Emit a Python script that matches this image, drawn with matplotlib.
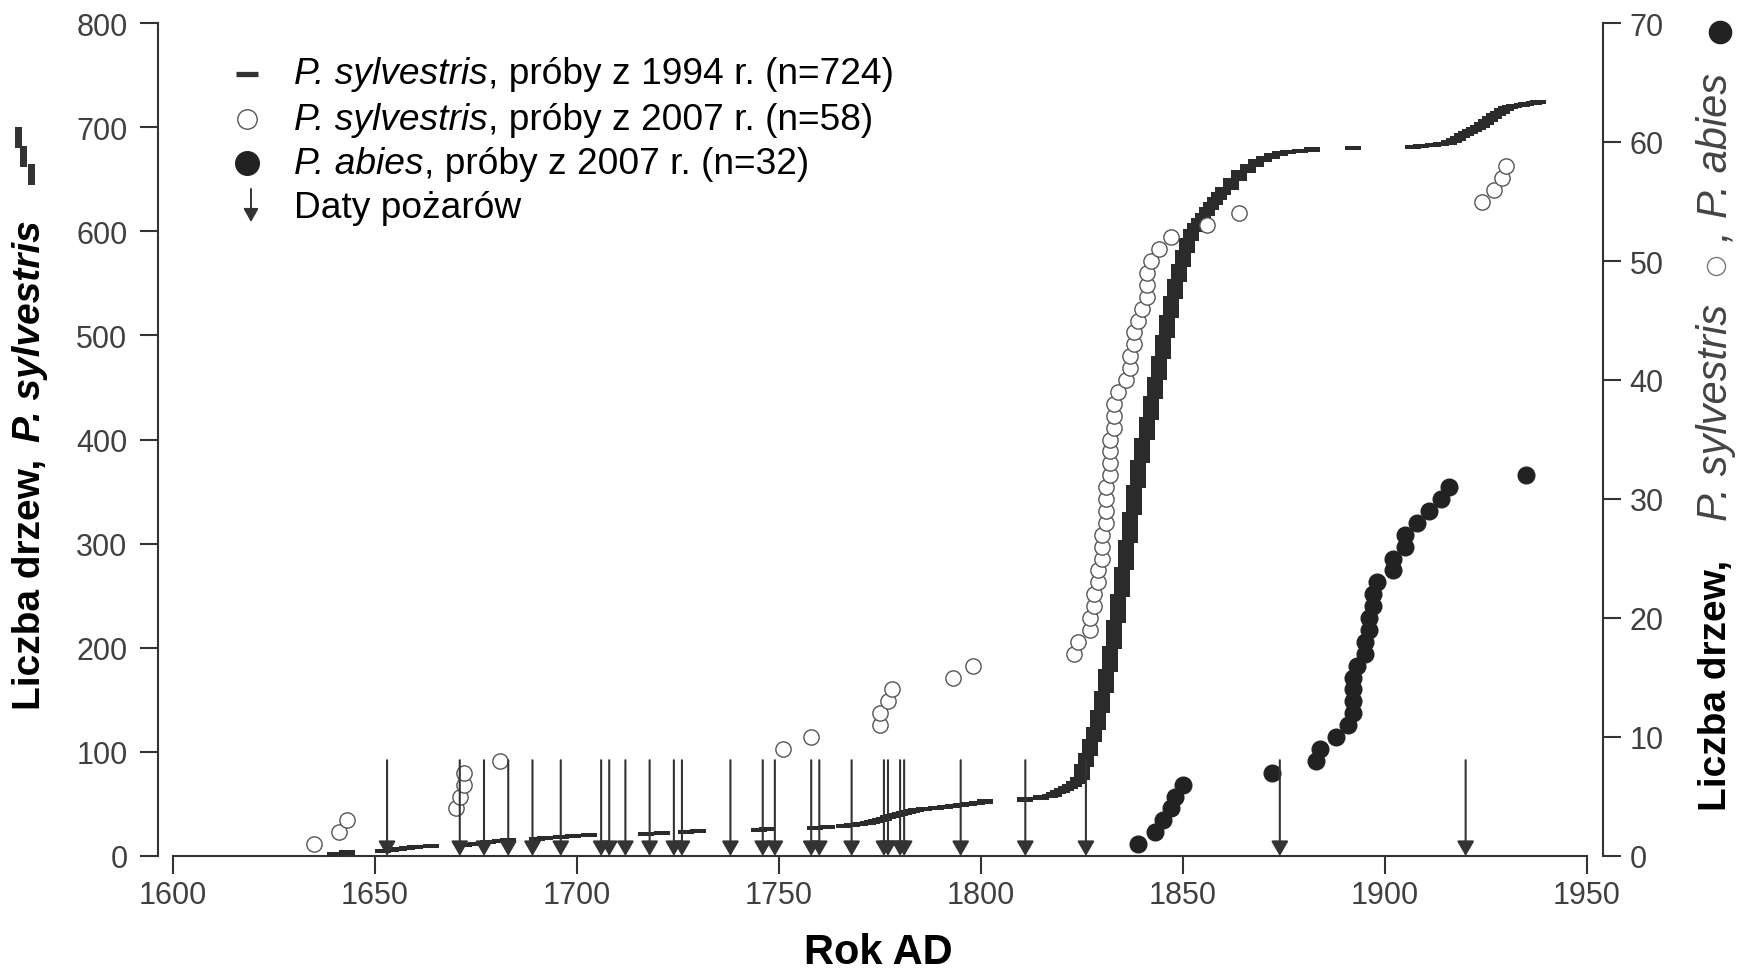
import numpy as np
import matplotlib
matplotlib.use("Agg")
import matplotlib.pyplot as plt
from matplotlib.lines import Line2D
from matplotlib.patches import Rectangle, FancyArrowPatch

plt.rcParams["font.family"] = ["Liberation Sans", "DejaVu Sans"]

# P. sylvestris, próby z 1994 r. - rok i skumulowana liczba drzew (n=724)
sylv94_years = [1640, 1643, 1652, 1654, 1656, 1658, 1660, 1664, 1672, 1675,
                1678, 1681, 1683, 1690, 1692, 1696, 1699, 1703, 1717, 1721,
                1727, 1730, 1745, 1747, 1759, 1762, 1766, 1768, 1770, 1772,
                1773, 1774, 1775, 1776, 1777, 1778, 1779, 1780, 1781, 1782,
                1783, 1784, 1786, 1789, 1791, 1793, 1795, 1797, 1799, 1801,
                1811, 1815, 1817, 1818, 1819, 1820, 1821, 1822, 1823, 1824,
                1825, 1826, 1827, 1828, 1829, 1830, 1831, 1832, 1833, 1834,
                1835, 1836, 1837, 1838, 1839, 1840, 1841, 1842, 1843, 1844,
                1845, 1846, 1847, 1848, 1849, 1850, 1851, 1852, 1853, 1854,
                1855, 1856, 1857, 1858, 1859, 1860, 1862, 1864, 1866, 1868,
                1870, 1872, 1874, 1876, 1879, 1882, 1892, 1907, 1909, 1912,
                1914, 1916, 1917, 1918, 1919, 1920, 1921, 1922, 1923, 1924,
                1925, 1926, 1927, 1928, 1929, 1930, 1931, 1932, 1934, 1935,
                1937, 1938]
sylv94_cum = [2, 4, 5, 6, 7, 8, 9, 10, 11, 12,
              13, 14, 15, 16, 17, 18, 19, 20, 21, 22,
              23, 24, 25, 26, 27, 28, 29, 30, 31, 32,
              33, 34, 35, 36, 37, 38, 39, 40, 41, 42,
              43, 44, 45, 46, 47, 48, 49, 50, 51, 53,
              55, 57, 58, 60, 61, 63, 65, 67, 70, 74,
              86, 97, 110, 122, 138, 157, 178, 200, 225, 250,
              276, 302, 328, 354, 378, 400, 420, 440, 458, 478,
              498, 518, 536, 552, 567, 580, 592, 600, 606, 611,
              616, 621, 626, 631, 636, 641, 649, 657, 663, 667,
              670, 673, 675, 676, 677, 679, 680, 681, 682, 683,
              684, 686, 688, 690, 692, 694, 696, 698, 700, 703,
              706, 709, 712, 714, 716, 718, 719, 720, 721, 722,
              723, 724]

# P. sylvestris, próby z 2007 r. - lata kolejnych drzew (n=58)
sylv07_years = [1635, 1641, 1643, 1670, 1671, 1672, 1672, 1681, 1751, 1758,
                1775, 1775, 1777, 1778, 1793, 1798, 1823, 1824, 1827, 1827,
                1828, 1828, 1829, 1829, 1830, 1830, 1830, 1831, 1831, 1831,
                1831, 1832, 1832, 1832, 1832, 1833, 1833, 1833, 1834, 1836,
                1837, 1837, 1838, 1838, 1839, 1840, 1841, 1841, 1841, 1842,
                1844, 1847, 1856, 1864, 1924, 1927, 1929, 1930]

# P. abies, próby z 2007 r. (n=32)
abies07_years = [1839, 1843, 1845, 1847, 1848, 1850, 1872, 1883, 1884, 1888,
                 1891, 1892, 1892, 1892, 1892, 1893, 1895, 1895, 1896, 1896,
                 1897, 1897, 1898, 1902, 1902, 1905, 1905, 1908, 1911, 1914,
                 1916, 1935]

# daty pożarów
fire_years = [1653, 1671, 1677, 1683, 1689, 1696, 1706, 1708, 1712, 1718,
              1724, 1726, 1738, 1746, 1749, 1758, 1760, 1768, 1776, 1777,
              1780, 1781, 1795, 1811, 1826, 1874, 1920]
arrow_top = 92

# legenda: czesc kursywa + reszta
legend_italic = ["P. sylvestris", "P. sylvestris", "P. abies", ""]
legend_rest = [", próby z 1994 r. (n=724)", ", próby z 2007 r. (n=58)",
               ", próby z 2007 r. (n=32)", "Daty pożarów"]

W, H = 1742, 970
DARK = "#333333"


def fpos(px, py):
    # piksele od lewego gornego rogu -> wspolrzedne figury
    return px / W, 1 - py / H


# kazde drzewo to jedna kreska na wysokosci swojego numeru
dash_x, dash_y = [], []
prev = 0
for yr, c in zip(sylv94_years, sylv94_cum):
    for r in range(prev + 1, c + 1):
        dash_x.append(yr)
        dash_y.append(r)
    prev = c

sylv07_rank = np.arange(1, len(sylv07_years) + 1)
abies07_rank = np.arange(1, len(abies07_years) + 1)

fig = plt.figure(figsize=(W / 100, H / 100), dpi=100)
ax = fig.add_axes([158 / W, 1 - 857 / H, (1603 - 158) / W, (857 - 24) / H])
ax2 = ax.twinx()

ax.set_xlim(1596.3, 1954)
ax.set_ylim(0, 800)
ax2.set_ylim(0, 70)

ax.plot(dash_x, dash_y, linestyle="none", marker="_", markersize=11.5,
        markeredgewidth=2.9, color="#2b2b2b", zorder=3)

ax2.plot(sylv07_years, sylv07_rank, linestyle="none", marker="o",
         markersize=11, markerfacecolor="white", markeredgecolor="#555555",
         markeredgewidth=1.0, zorder=4)
ax2.plot(abies07_years, abies07_rank, linestyle="none", marker="o",
         markersize=12, color="#222222", zorder=4)

for yr in fire_years:
    ax2.annotate("", xy=(yr, 0), xytext=(yr, arrow_top),
                 xycoords=ax.transData, textcoords=ax.transData,
                 arrowprops=dict(arrowstyle="-|>,head_length=0.9,head_width=0.52",
                                 mutation_scale=10, color=DARK, lw=1.5,
                                 shrinkA=0, shrinkB=0),
                 zorder=6)

# osie
ax.set_xticks(np.arange(1600, 1951, 50))
ax.set_yticks(np.arange(0, 801, 100))
ax2.set_yticks(np.arange(0, 71, 10))
for a in (ax, ax2):
    for s in a.spines.values():
        s.set_linewidth(1.5)
        s.set_color(DARK)
    a.spines["top"].set_visible(False)
ax.spines["right"].set_visible(False)
ax2.spines["left"].set_visible(False)
ax2.spines["bottom"].set_visible(False)
ax.spines["bottom"].set_bounds(1600, 1950)

ax.tick_params(axis="both", direction="out", length=13, width=1.5,
               color=DARK, labelsize=22, labelcolor="#404040")
ax.tick_params(axis="x", pad=4)
ax.tick_params(axis="y", pad=9)
ax2.tick_params(axis="y", direction="out", length=13, width=1.5,
                color=DARK, labelsize=22, labelcolor="#404040", pad=6)

# opis osi X
fig.text(*fpos(878, 953), "Rok AD", fontsize=30, fontweight="bold",
         ha="center", va="center")

# opis lewej osi
fig.text(*fpos(30, 584), "Liczba drzew,", rotation=90, fontsize=28,
         fontweight="bold", ha="center", va="center")
fig.text(*fpos(30, 331), "P. sylvestris", rotation=90, fontsize=28,
         fontweight="bold", style="italic", ha="center", va="center")
# maly symbol serii 1994 nad opisem
for bx, by in [(15, 128), (20, 147), (28, 165)]:
    fig.add_artist(Rectangle(fpos(bx, by + 21), 7 / W, 21 / H,
                             transform=fig.transFigure, color=DARK, lw=0))

# opis prawej osi
fig.text(*fpos(1716, 685), "Liczba drzew,", rotation=90, fontsize=28,
         fontweight="bold", ha="center", va="center")
fig.text(*fpos(1716, 412), "P. sylvestris", rotation=90, fontsize=30,
         style="italic", color="#444444", ha="center", va="center")
fig.add_artist(Line2D([fpos(1716, 267)[0]], [fpos(1716, 267)[1]], marker="o",
                      markersize=13, markerfacecolor="white",
                      markeredgecolor="#777777", markeredgewidth=1.0,
                      transform=fig.transFigure))
fig.text(*fpos(1716, 236), ",", rotation=90, fontsize=30, style="italic",
         color="#444444", ha="center", va="center")
fig.text(*fpos(1716, 145), "P. abies", rotation=90, fontsize=30,
         style="italic", color="#444444", ha="center", va="center")
fig.add_artist(Line2D([fpos(1720, 33)[0]], [fpos(1720, 33)[1]], marker="o",
                      markersize=16, color="#222222",
                      transform=fig.transFigure))

# legenda - tekst z kursywa skladany z kawalkow
renderer = fig.canvas.get_renderer()
rows_y = [75, 120, 164, 209]
for ry, it_txt, rest in zip(rows_y, legend_italic, legend_rest):
    x_txt = 294 / W
    if it_txt:
        t = fig.text(x_txt, fpos(0, ry)[1], it_txt, fontsize=26.7,
                     style="italic", ha="left", va="center")
        x_txt = t.get_window_extent(renderer).x1 / W
    fig.text(x_txt, fpos(0, ry)[1], rest, fontsize=26.7, ha="left", va="center")

x0, y0 = fpos(236, rows_y[0])
x1, _ = fpos(258, rows_y[0])
fig.add_artist(Line2D([x0, x1], [y0, y0], lw=3.8, color=DARK,
                      solid_capstyle="butt", transform=fig.transFigure))
fig.add_artist(Line2D([fpos(247, 0)[0]], [fpos(0, rows_y[1])[1]], marker="o",
                      markersize=14, markerfacecolor="white",
                      markeredgecolor="#555555", markeredgewidth=1.0,
                      transform=fig.transFigure))
fig.add_artist(Line2D([fpos(247, 0)[0]], [fpos(0, rows_y[2])[1]], marker="o",
                      markersize=17, color="#222222", transform=fig.transFigure))
fig.add_artist(FancyArrowPatch(
    fpos(251, 190), fpos(251, 223), transform=fig.transFigure,
    arrowstyle="-|>,head_length=0.8,head_width=0.45", mutation_scale=10,
    color=DARK, lw=1.4, shrinkA=0, shrinkB=0))

fig.savefig("out.png", dpi=100)
